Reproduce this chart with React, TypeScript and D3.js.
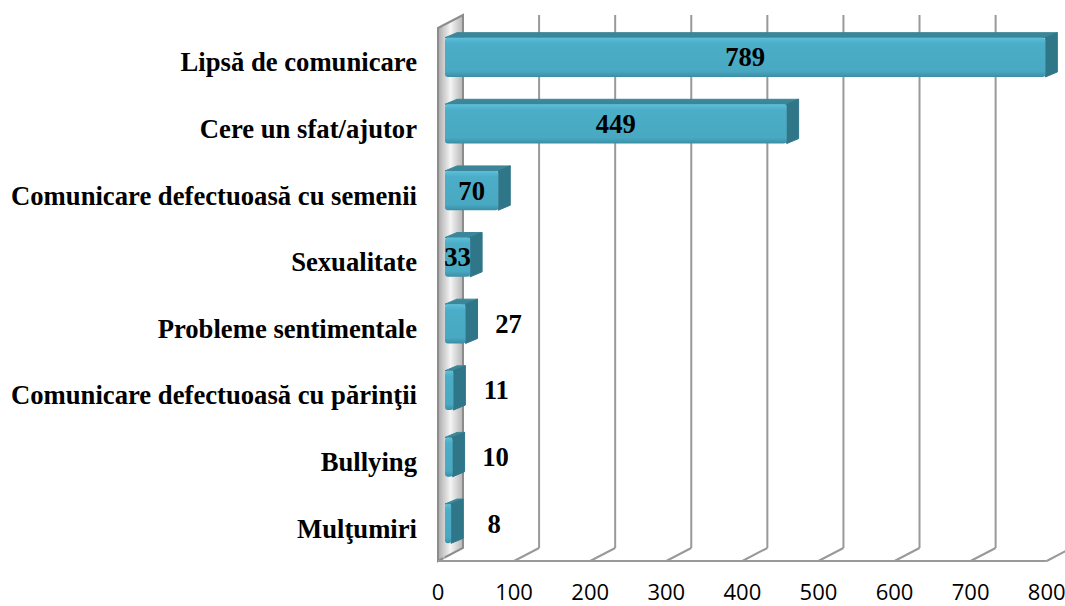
import * as d3 from "d3";

const categories = [
  "Lipsă de comunicare",
  "Cere un sfat/ajutor",
  "Comunicare defectuoasă cu semenii",
  "Sexualitate",
  "Probleme sentimentale",
  "Comunicare defectuoasă cu părinţii",
  "Bullying",
  "Mulţumiri",
];
const values = [789, 449, 70, 33, 27, 11, 10, 8];
const ticks = [0, 100, 200, 300, 400, 500, 600, 700, 800];

const W = 1065;
const H = 606;
const DX = 25; // wall depth offset
const DY = -13;
const BDX = 12; // bar depth
const BDY = -5;

export default function App() {
  const x = d3.scaleLinear().domain([0, 800]).range([438, 1046.7]);
  const y = d3
    .scaleBand<string>()
    .domain(categories)
    .range([28, 561])
    .paddingInner(0.41)
    .paddingOuter(0.205);
  const bh = y.bandwidth();
  const x0 = x(0);
  const top = 28;
  const bottom = 561;

  const pts = (a: number[][]) => a.map((p) => p.join(",")).join(" ");

  return (
    <svg width={W} height={H} style={{ position: "absolute", left: 0, top: 0, background: "#fff" }}>
      <defs>
        <linearGradient id="wall" x1="0" x2="1" y1="0" y2="0">
          <stop offset="0" stopColor="#a9a9a9" />
          <stop offset="0.5" stopColor="#f4f4f4" />
          <stop offset="1" stopColor="#b5b5b5" />
        </linearGradient>
        <linearGradient id="front" x1="0" x2="0" y1="0" y2="1">
          <stop offset="0" stopColor="#5cc0da" />
          <stop offset="0.15" stopColor="#4badc7" />
          <stop offset="0.85" stopColor="#49a9c2" />
          <stop offset="1" stopColor="#3a8ea4" />
        </linearGradient>
      </defs>

      {/* left wall */}
      <polygon
        points={pts([[x0, top], [x0 + DX, top + DY], [x0 + DX, bottom + DY], [x0, bottom]])}
        fill="url(#wall)"
        stroke="#8c8c8c"
        strokeWidth={2}
      />
      <line x1={x0 + 6} x2={x0 + 6} y1={top - 2} y2={bottom - 2} stroke="#d0d0d0" strokeWidth={1} />

      {/* floor front edge */}
      <line x1={x0} x2={x(800)} y1={bottom} y2={bottom} stroke="#999" strokeWidth={2} />

      {/* gridlines on back wall + floor diagonals */}
      {ticks.slice(1).map((t) => (
        <g key={t}>
          <line x1={x(t) + DX} x2={x(t) + DX} y1={top + DY} y2={bottom + DY} stroke="#999" strokeWidth={2} />
          <line x1={x(t)} x2={x(t) + DX} y1={bottom} y2={bottom + DY} stroke="#999" strokeWidth={2} />
        </g>
      ))}

      {/* bars */}
      {categories.map((c, i) => {
        const v = values[i];
        const bx = x0 + 7;
        const by = (y(c) as number) - 4;
        const w = x(v) - x0;
        const ex = bx + w;
        return (
          <g key={c}>
            <polygon
              points={pts([[bx, by], [bx + BDX, by + BDY], [ex + BDX, by + BDY], [ex, by]])}
              fill="#3b8799"
              stroke="#3b8799"
              strokeWidth={1}
              strokeLinejoin="round"
            />
            <polygon
              points={pts([[ex, by], [ex + BDX, by + BDY], [ex + BDX, by + bh + BDY], [ex, by + bh]])}
              fill="#2f7689"
              stroke="#2f7689"
              strokeWidth={1}
              strokeLinejoin="round"
            />
            <rect x={bx} y={by} width={Math.max(w, 2)} height={bh} rx={3} fill="url(#front)" />
          </g>
        );
      })}

      {/* value labels */}
      {categories.map((c, i) => {
        const v = values[i];
        const bx = x0 + 7;
        const ex = bx + x(v) - x0;
        const lx = v >= 33 ? (bx + ex) / 2 : ex + 43;
        const cy = (y(c) as number) - 4 + bh / 2;
        return (
          <text
            key={c}
            x={lx}
            y={cy}
            textAnchor="middle"
            dominantBaseline="central"
            fontFamily="'Liberation Serif', 'Times New Roman', serif"
            fontWeight="bold"
            fontSize={26.67}
            fill="#000"
          >
            {v}
          </text>
        );
      })}

      {/* category labels */}
      {categories.map((c) => (
        <text
          key={c}
          x={417}
          y={(y(c) as number) + bh / 2 + 1}
          textAnchor="end"
          dominantBaseline="central"
          fontFamily="'Liberation Serif', 'Times New Roman', serif"
          fontWeight="bold"
          fontSize={26.67}
          fill="#000"
        >
          {c}
        </text>
      ))}

      {/* tick labels */}
      {ticks.map((t) => (
        <text
          key={t}
          x={x(t)}
          y={600}
          textAnchor="middle"
          fontFamily="'Open Sans', 'Noto Sans', sans-serif"
          fontSize={22}
          fill="#000"
        >
          {t}
        </text>
      ))}
    </svg>
  );
}
